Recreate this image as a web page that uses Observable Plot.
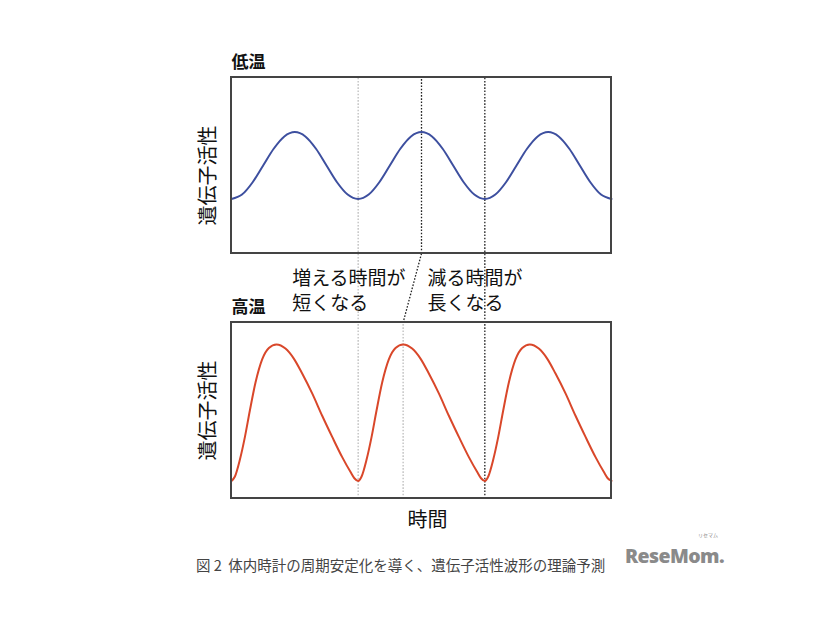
<!DOCTYPE html>
<html>
<head>
<meta charset="utf-8">
<script src="https://cdn.jsdelivr.net/npm/d3@7"></script>
<script src="https://cdn.jsdelivr.net/npm/@observablehq/plot@0.6"></script>
<style>
  html, body { margin: 0; padding: 0; background: #fff; }
  #wrap { position: relative; width: 826px; height: 620px; overflow: hidden; }
  #chart { position: absolute; left: 0; top: 0; }
  #caption { position: absolute; left: 196px; top: 554px; font-family: "Noto Sans CJK JP", sans-serif; font-size: 14.5px; color: #444; white-space: pre; }
  #logo { position: absolute; left: 625px; top: 546px; line-height: 20px; font-family: "Open Sans", "DejaVu Sans", sans-serif; font-weight: 800; font-size: 19.5px; color: #8a8a8a; letter-spacing: -0.6px; white-space: nowrap; }
  #logo-kana { position: absolute; left: 698px; top: 532px; line-height: 6px; font-size: 5px; font-family: "Noto Sans CJK JP", sans-serif; color: #8a8a8a; white-space: nowrap; }
</style>
</head>
<body>
<div id="wrap">
  <div id="chart"></div>
  <div id="caption"></div>
  <div id="logo-kana">リセマム</div>
  <div id="logo">ReseMom.</div>
</div>
<script>
// ---- data ----
const cycles = [0, 1, 2];               // three periods across the time axis
// low temperature (symmetric waveform), one period starting at a trough
const lowPhase = [0, 0.083, 0.167, 0.25, 0.333, 0.417, 0.5, 0.583, 0.667, 0.75, 0.833, 0.917];
const lowValue = [0.31, 0.335, 0.405, 0.50, 0.595, 0.665, 0.69, 0.665, 0.595, 0.50, 0.405, 0.335];
// high temperature (asymmetric waveform), one period starting at a trough
const highPhase = [0, 0.027, 0.066, 0.106, 0.145, 0.19, 0.242, 0.295, 0.355, 0.426, 0.492, 0.558, 0.637, 0.716, 0.795, 0.874, 0.94, 0.97];
const highValue = [0.10, 0.125, 0.22, 0.35, 0.50, 0.66, 0.79, 0.855, 0.875, 0.852, 0.795, 0.71, 0.597, 0.47, 0.35, 0.235, 0.15, 0.115];
const lowPeakTime = 1.5;     // a peak of the low-temperature curve
const highPeakTime = 1.355;  // corresponding peak at high temperature
const troughTimes = [1, 2];  // troughs used as references

const panelTitles = ["低温", "高温"];
const yLabel = "遺伝子活性";
const xLabel = "時間";
const noteLeft = "増える時間が\n短くなる";
const noteRight = "減る時間が\n長くなる";
const captionText = "図 2  体内時計の周期安定化を導く、遺伝子活性波形の理論予測";

// ---- layout helpers (panel stacking in value units) ----
const GAP = 0.392;
const TOP = 1 + GAP;  // base of the upper panel
const TMAX = 3;

function buildSeries(phase, value) {
  const rows = [];
  for (const c of cycles) phase.forEach((p, i) => rows.push({t: c + p, v: value[i]}));
  rows.push({t: TMAX, v: value[0]});
  return rows;
}
const low = buildSeries(lowPhase, lowValue);
const high = buildSeries(highPhase, highValue);

const panels = [{base: TOP, title: panelTitles[0]}, {base: 0, title: panelTitles[1]}];

const guides = [
  {x1: troughTimes[0], y1: 0, x2: troughTimes[0], y2: TOP + 1, c: "#bdbdbd"},
  {x1: lowPeakTime, y1: TOP, x2: lowPeakTime, y2: TOP + 1, c: "#222"},
  {x1: lowPeakTime, y1: TOP, x2: highPeakTime, y2: 1, c: "#222"},
  {x1: highPeakTime, y1: 0, x2: highPeakTime, y2: 1, c: "#bdbdbd"},
  {x1: troughTimes[1], y1: 0, x2: troughTimes[1], y2: TOP + 1, c: "#222"}
];

const FONT = "Noto Sans CJK JP, sans-serif";

const chart = Plot.plot({
  width: 826,
  height: 540,
  marginLeft: 231,
  marginRight: 215,
  marginTop: 77,
  marginBottom: 42,
  x: {domain: [0, TMAX], axis: null},
  y: {domain: [0, TOP + 1], axis: null},
  style: {background: "transparent", overflow: "visible"},
  marks: [
    Plot.link(guides, {x1: "x1", y1: "y1", x2: "x2", y2: "y2", stroke: d => d.c, strokeWidth: 1.3, strokeDasharray: "1.6,1.6"}),
    Plot.line(low, {x: "t", y: d => d.v + TOP, curve: "monotone-x", stroke: "#3d4f9f", strokeWidth: 2}),
    Plot.line(high, {x: "t", y: "v", curve: "monotone-x", stroke: "#d9472a", strokeWidth: 2}),
    Plot.rect(panels, {x1: 0, x2: TMAX, y1: "base", y2: d => d.base + 1, fill: "none", stroke: "#444", strokeWidth: 2}),
    Plot.text(panels, {x: 0, y: d => d.base + 1, text: "title", dy: -15, textAnchor: "start", fontSize: 17, fontWeight: "bold", fontFamily: FONT, fill: "#111"}),
    Plot.text([panels[0]], {x: 0, y: d => d.base + 0.5, text: () => yLabel, rotate: -90, dx: -23, dy: 10, fontSize: 20, fontFamily: FONT, fill: "#111"}),
    Plot.text([panels[1]], {x: 0, y: d => d.base + 0.5, text: () => yLabel, rotate: -90, dx: -23, dy: 0, fontSize: 20, fontFamily: FONT, fill: "#111"}),
    Plot.text([noteLeft, noteRight], {x: [0.479, 1.547], y: [1.1875, 1.1875], text: d => d, textAnchor: "start", lineHeight: 1.3, fontSize: 19, fontFamily: FONT, fill: "#111"}),
    Plot.text([xLabel], {x: 1.547, y: 0, dy: 22, text: d => d, fontSize: 20, fontFamily: FONT, fill: "#111"})
  ]
});
document.getElementById("chart").appendChild(chart);
document.getElementById("caption").textContent = captionText;
</script>
</body>
</html>
